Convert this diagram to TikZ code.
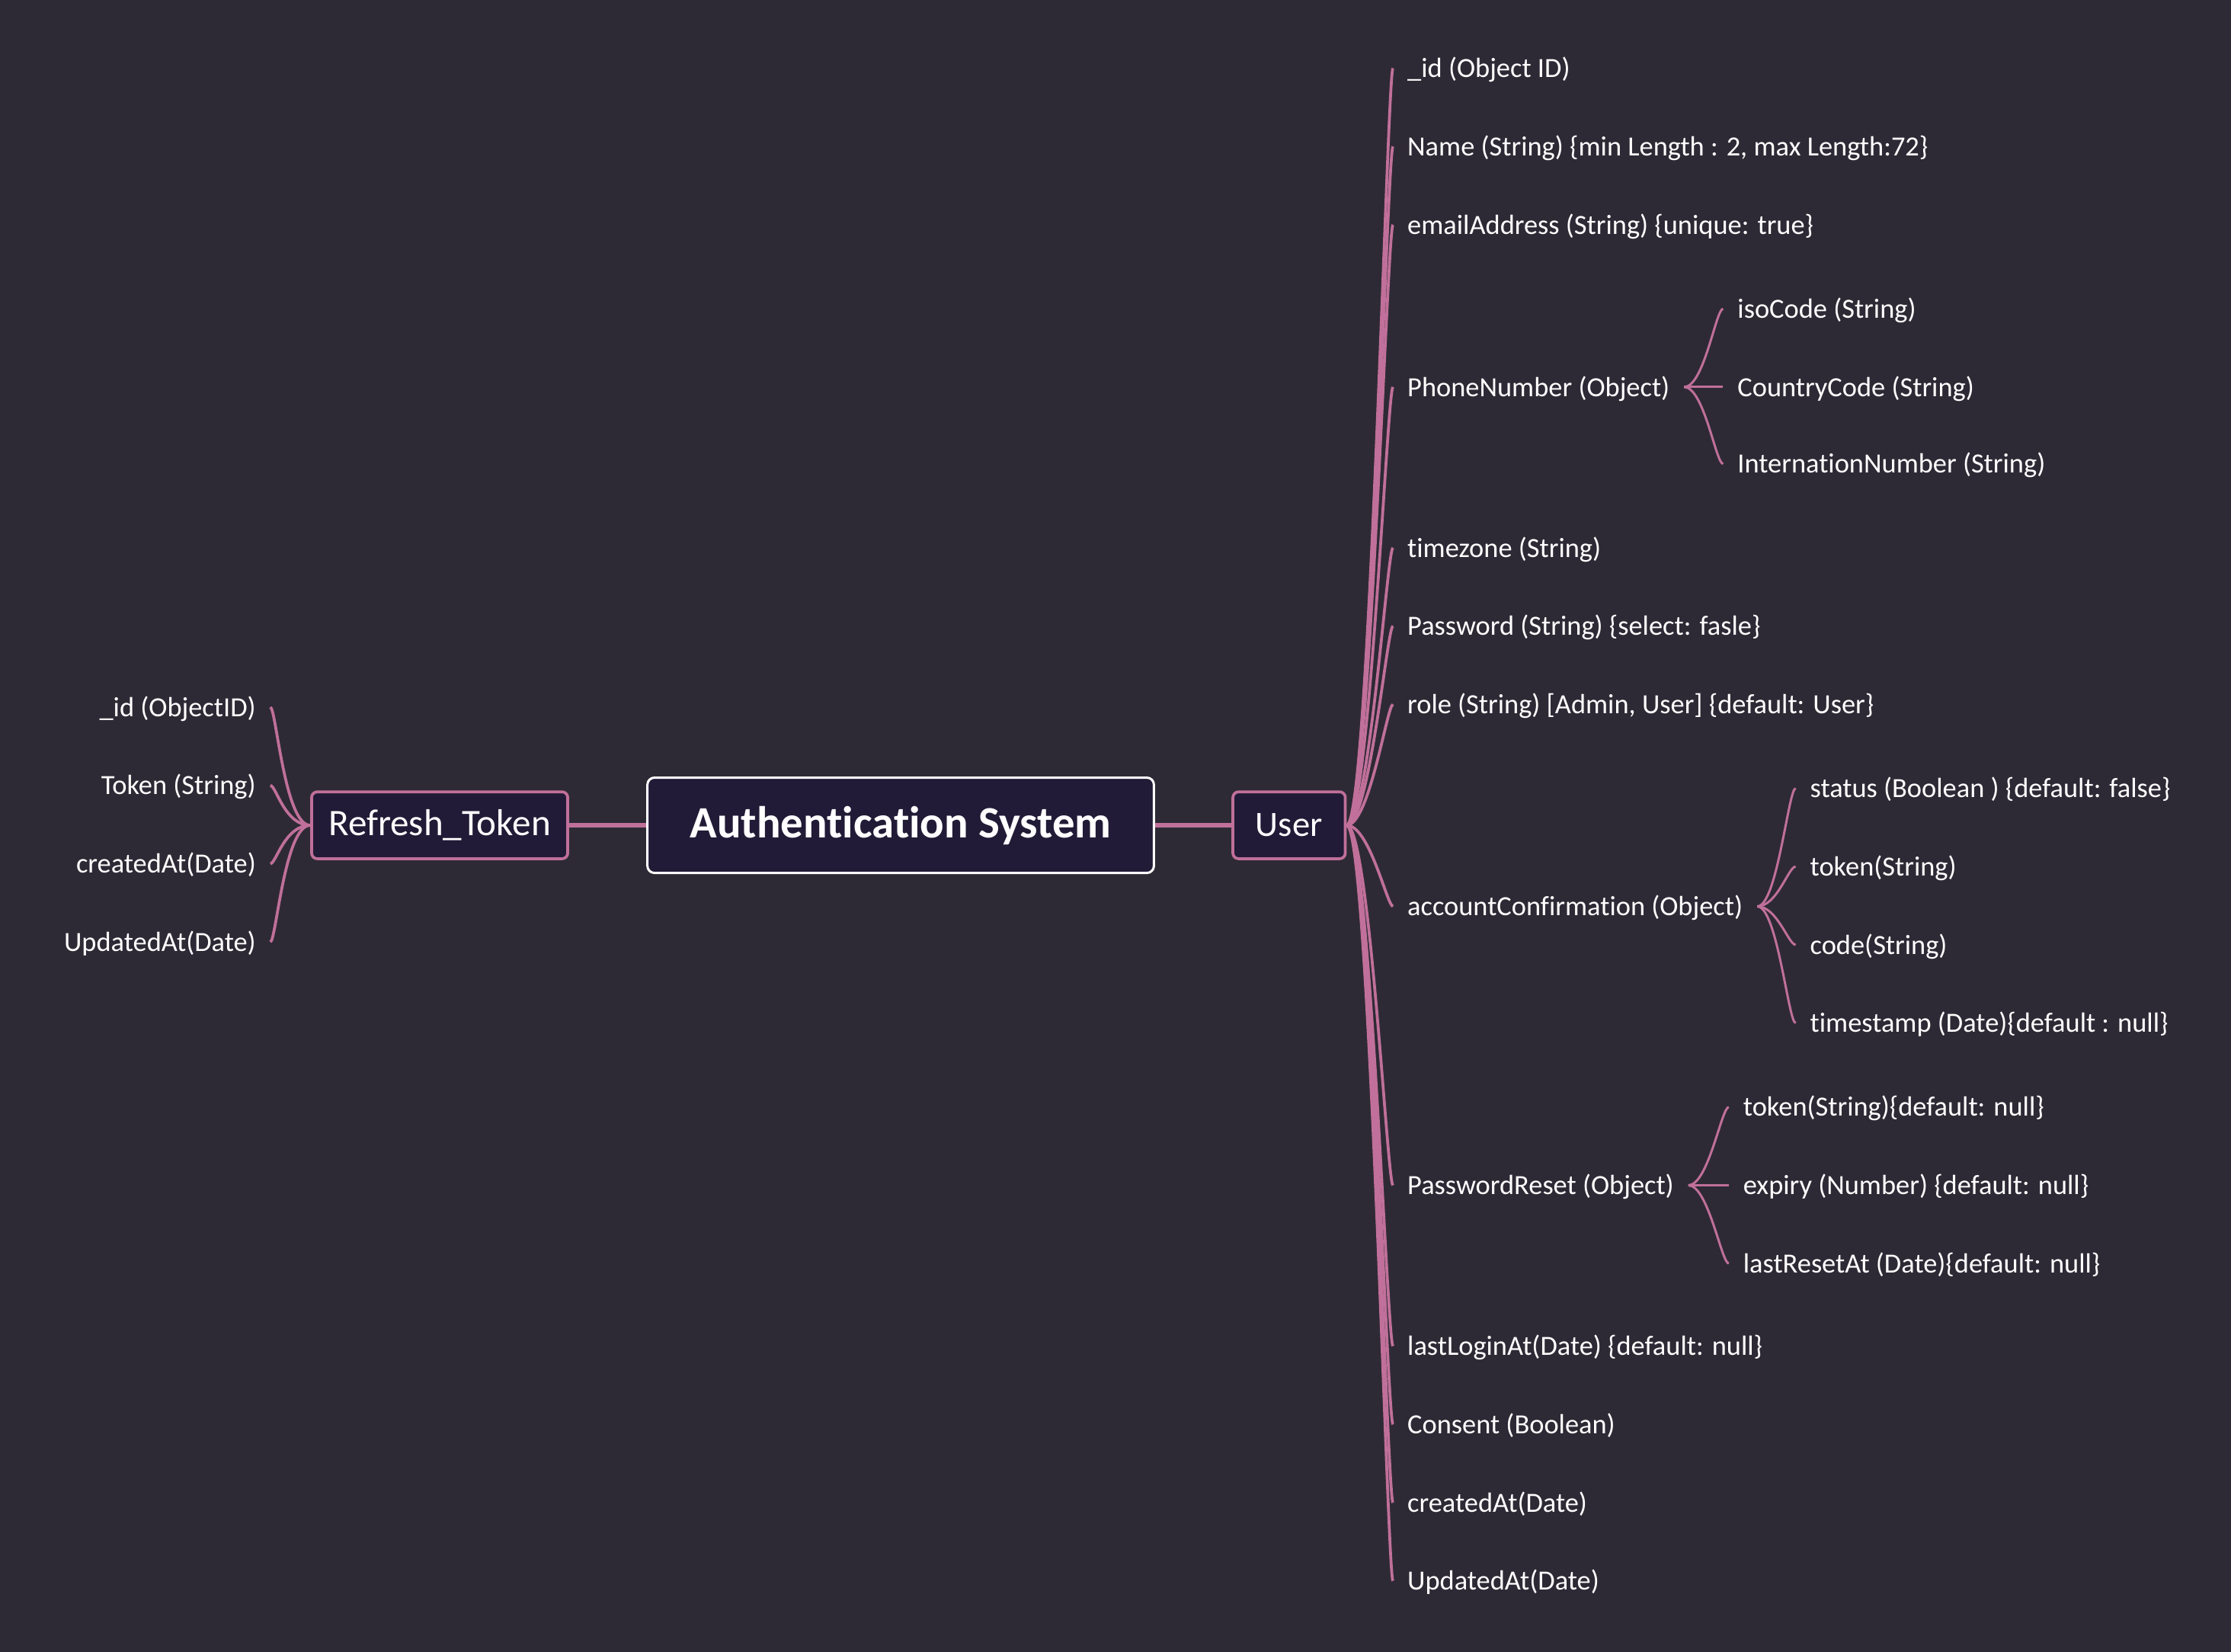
\documentclass[tikz,border=0pt]{standalone}
\usepackage{fontspec}
\setmainfont{Carlito}[Ligatures={NoCommon}]
\usetikzlibrary{positioning}
\definecolor{bgcol}{HTML}{2E2A35}
\definecolor{boxfill}{HTML}{221B37}
\definecolor{branch}{HTML}{C0709A}
\tikzset{
	topic/.style={draw=white, line width=1.6pt, fill=boxfill, rounded corners=5pt, text=white, font=\bfseries\fontsize{31.5}{34}\selectfont, minimum height=67pt, minimum width=356pt},
	subtopic/.style={draw=branch, line width=2pt, fill=boxfill, rounded corners=4pt, text=white, font=\fontsize{25}{28}\selectfont, minimum height=47pt, inner xsep=4pt},
	leaf/.style={text=white, font=\fontsize{19.5}{22}\selectfont, inner xsep=10pt, inner ysep=0pt, text height=13pt, text depth=0pt},
	trunk/.style={draw=branch, line width=2.8pt},
	twig/.style={draw=branch, line width=2pt},
	sprig/.style={draw=branch, line width=1.6pt}
}
\begin{document}
\begin{tikzpicture}[x=1pt, y=-1pt]
			\fill[bgcol] (0,0) rectangle (1568,1161);
			\useasboundingbox (0,0) rectangle (1568,1161);
			\node[topic] (auth) at (633,580) {Authentication System};
			\node[subtopic, minimum width=79pt] (user) at (906,580) {User};
			\node[subtopic, minimum width=180pt, font=\fontsize{26.3}{28}\selectfont] (refresh) at (309,580) {Refresh\_Token};
			\path[trunk] (auth) edge (user) edge (refresh);
			\foreach \i/\y/\txt in {1/48/{\_id (Object ID)}, 2/103/{Name (String) \{min Length : 2, max Length:72\}}, 3/158/{emailAddress (String) \{unique: true\}}, 4/272/{PhoneNumber (Object)}, 5/385/{timezone (String)}, 6/440/{Password (String) \{select: fasle\}}, 7/495/{role (String) [Admin, User] \{default: User\}}, 8/637/{accountConfirmation (Object)}, 9/833/{PasswordReset (Object)}, 10/946/{lastLoginAt(Date) \{default: null\}}, 11/1001/{Consent (Boolean)}, 12/1056/{createdAt(Date)}, 13/1111/{UpdatedAt(Date)}}
			{
				\node[leaf, anchor=west] (u\i) at (979,\y) {\txt};
				\draw[twig] (user.east) .. controls +(16,0) and +(-4,0) .. (u\i.west);
			}
			\foreach \i/\y/\txt in {1/217/{isoCode (String)}, 2/272/{CountryCode (String)}, 3/326/{InternationNumber (String)}}
			{
				\node[leaf, anchor=west] (pn\i) at (1211,\y) {\txt};
				\draw[sprig] (u4.east) .. controls +(14,0) and +(-5,0) .. (pn\i.west);
			}
			\foreach \i/\y/\txt in {1/554/{status (Boolean ) \{default: false\}}, 2/609/{token(String)}, 3/664/{code(String)}, 4/719/{timestamp (Date)\{default : null\}}}
			{
				\node[leaf, anchor=west] (ac\i) at (1262,\y) {\txt};
				\draw[sprig] (u8.east) .. controls +(14,0) and +(-5,0) .. (ac\i.west);
			}
			\foreach \i/\y/\txt in {1/778/{token(String)\{default: null\}}, 2/833/{expiry (Number) \{default: null\}}, 3/888/{lastResetAt (Date)\{default: null\}}}
			{
				\node[leaf, anchor=west] (pr\i) at (1215,\y) {\txt};
				\draw[sprig] (u9.east) .. controls +(14,0) and +(-5,0) .. (pr\i.west);
			}
			\foreach \i/\y/\txt in {1/497/{\_id (ObjectID)}, 2/552/{Token (String)}, 3/607/{createdAt(Date)}, 4/662/{UpdatedAt(Date)}}
			{
				\node[leaf, anchor=east] (rt\i) at (190,\y) {\txt};
				\draw[twig] (refresh.west) .. controls +(-18,0) and +(4,0) .. (rt\i.east);
			}
		\end{tikzpicture}
\end{document}
